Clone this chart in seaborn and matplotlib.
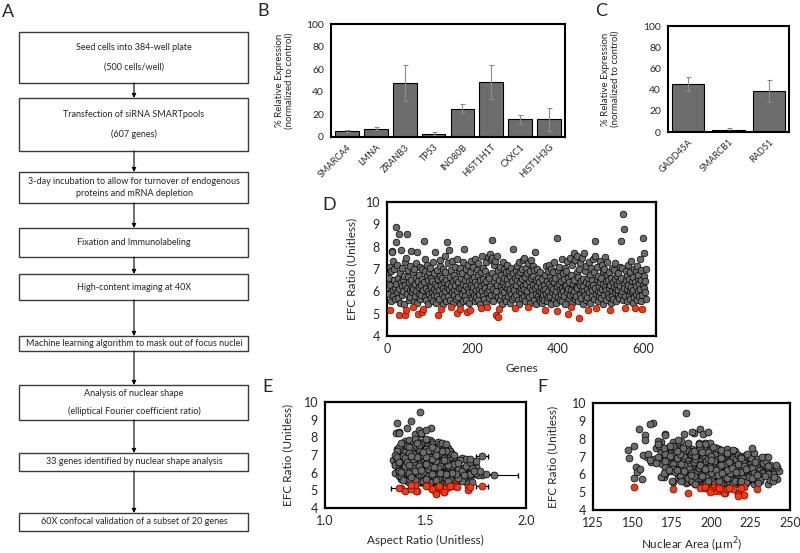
import numpy as np
import pandas as pd
import seaborn as sns
import matplotlib.pyplot as plt
from matplotlib.patches import Rectangle

sns.set_style("white")
plt.rcParams['font.family'] = ['Lato', 'DejaVu Sans']

# ---- panel A: screening workflow ----
steps = [
    ["Seed cells into 384-well plate", "(500 cells/well)"],
    ["Transfection of siRNA SMARTpools", "(607 genes)"],
    ["3-day incubation to allow for turnover of endogenous", "proteins and mRNA depletion"],
    ["Fixation and Immunolabeling"],
    ["High-content imaging at 40X"],
    ["Machine learning algorithm to mask out of focus nuclei"],
    ["Analysis of nuclear shape", "(elliptical Fourier coefficient ratio)"],
    ["33 genes identified by nuclear shape analysis"],
    ["60X confocal validation of a subset of 20 genes"],
]

# ---- panel B / C: knockdown efficiency ----
genes_b = ["SMARCA4", "LMNA", "ZRANB3", "TP53", "INO80B", "HIST1H1T", "CXXC1", "HIST1H3G"]
expr_b = [5.5, 7.5, 48, 3, 25, 49, 15.5, 15.5]
err_b = [0.8, 1.5, 16, 1.5, 4, 15, 4, 10.5]
genes_c = ["GADD45A", "SMARCB1", "RAD51"]
expr_c = [45.5, 2, 38.5]
err_c = [6.5, 1.5, 10.5]

# ---- panels D-F: EFC ratio per gene (genes 1..607) ----
efc = [
    6.75, 6.45, 6.2, 5.9, 6.6, 7.1, 5.15, 6.3, 5.55, 6.9, 7.8, 7.75, 6.05, 7.35, 5.8, 6.5, 7.0, 6.15, 5.65, 8.9,
    8.2, 6.35, 5.95, 7.2, 6.6, 5.7, 4.95, 8.55, 6.1, 6.8, 5.5, 6.4, 7.85, 6.25, 5.85, 7.05, 6.55, 6.0, 5.45, 6.7,
    6.3, 4.95, 7.3, 5.15, 7.5, 6.15, 8.55, 5.9, 6.65, 6.95, 5.6, 6.4, 7.15, 6.05, 5.75, 7.8, 6.5, 6.2, 5.95, 5.28,
    6.85, 6.1, 5.55, 7.0, 6.35, 5.8, 6.6, 7.25, 6.0, 5.5, 7.75, 4.97, 6.45, 5.9, 6.75, 6.2, 7.1, 5.65, 6.3, 5.85,
    5.08, 6.55, 7.0, 6.05, 5.2, 8.25, 6.4, 5.75, 6.9, 7.45, 6.15, 5.6, 6.7, 7.2, 6.0, 5.45, 6.5, 6.85, 5.9, 6.3,
    7.05, 6.2, 5.7, 6.6, 5.95, 6.45, 7.3, 5.55, 6.1, 6.8, 5.85, 7.75, 6.35, 6.0, 5.5, 6.95, 6.25, 5.8, 4.92, 6.55,
    6.05, 5.65, 6.7, 7.15, 7.4, 5.2, 6.3, 5.9, 6.6, 5.45, 6.15, 7.0, 6.4, 5.75, 6.85, 7.6, 6.0, 5.55, 6.5, 6.2,
    8.2, 6.35, 5.8, 7.25, 7.85, 6.1, 5.6, 6.65, 6.95, 5.3, 6.25, 5.95, 7.35, 6.45, 5.5, 6.75, 6.05, 5.85, 7.1, 6.3,
    5.65, 6.55, 7.45, 6.0, 5.05, 6.4, 5.75, 6.9, 6.15, 5.45, 7.05, 5.23, 6.6, 6.2, 5.9, 6.8, 7.3, 5.55, 6.35, 6.05,
    7.9, 6.5, 5.8, 7.0, 6.25, 5.6, 6.7, 5.08, 6.1, 7.2, 5.95, 6.45, 5.5, 5.15, 6.85, 6.3, 7.35, 5.7, 6.0, 6.55,
    7.1, 6.2, 5.85, 6.65, 5.55, 6.4, 7.45, 6.05, 5.75, 6.95, 6.3, 5.6, 6.75, 7.25, 6.1, 5.9, 6.5, 5.45, 6.85, 6.25,
    5.25, 7.6, 6.0, 6.55, 5.8, 7.05, 6.35, 5.65, 6.9, 6.15, 5.5, 7.3, 6.45, 5.95, 5.3, 6.7, 7.55, 6.05, 5.7, 6.6,
    7.65, 6.25, 7.4, 5.85, 6.8, 8.3, 7.5, 6.1, 5.55, 7.2, 6.45, 7.35, 5.9, 6.65, 6.0, 4.93, 7.6, 6.3, 5.75, 4.84,
    6.95, 5.23, 6.5, 5.6, 7.1, 6.2, 5.85, 6.75, 6.05, 5.45, 7.3, 6.4, 5.95, 6.6, 7.0, 5.7, 6.25, 6.85, 5.55, 6.15,
    6.55, 7.2, 5.8, 6.35, 6.0, 6.9, 5.5, 6.7, 6.1, 7.05, 5.9, 6.45, 5.65, 6.8, 6.2, 7.9, 6.05, 5.75, 6.6, 5.27,
    6.95, 6.3, 5.85, 7.15, 6.5, 5.6, 6.75, 6.0, 7.3, 5.45, 6.4, 6.85, 5.95, 6.15, 7.0, 5.7, 6.55, 6.25, 7.4, 5.8,
    7.5, 6.1, 6.65, 5.55, 7.05, 6.35, 5.9, 6.8, 6.0, 5.29, 7.25, 6.45, 5.75, 6.9, 6.2, 5.5, 7.4, 6.6, 6.05, 5.85,
    6.7, 7.15, 6.3, 5.6, 6.95, 7.75, 6.15, 5.9, 6.5, 5.45, 7.0, 6.25, 5.8, 6.6, 6.0, 5.65, 6.4, 5.55, 6.85, 5.95,
    6.2, 5.7, 6.55, 5.5, 6.05, 5.85, 6.3, 5.6, 6.75, 5.18, 6.1, 7.15, 5.9, 6.45, 5.55, 6.9, 6.0, 5.75, 7.2, 6.35,
    6.65, 5.8, 7.0, 6.2, 5.45, 6.5, 5.95, 6.85, 6.1, 5.65, 7.3, 6.4, 5.85, 6.6, 6.0, 5.5, 8.4, 6.25, 5.1, 6.95,
    5.75, 6.35, 7.1, 6.05, 5.6, 6.7, 5.9, 6.45, 7.45, 6.15, 5.55, 6.8, 6.0, 5.8, 6.55, 7.05, 6.25, 5.45, 6.9, 6.3,
    5.95, 7.35, 6.1, 5.0, 6.6, 5.7, 6.4, 7.5, 5.85, 5.3, 6.75, 6.05, 5.5, 7.2, 6.35, 5.9, 7.7, 6.5, 6.0, 5.65,
    7.4, 6.2, 5.8, 6.85, 7.6, 6.15, 5.55, 6.65, 4.8, 7.0, 6.3, 5.9, 7.25, 6.45, 5.7, 6.05, 7.5, 6.55, 5.45, 6.25,
    7.7, 6.0, 5.85, 6.9, 6.4, 5.6, 7.15, 6.1, 5.75, 6.6, 5.15, 6.35, 7.3, 5.95, 6.75, 5.5, 6.2, 7.05, 6.5, 5.8,
    6.05, 7.45, 6.3, 5.65, 6.85, 7.6, 8.25, 6.15, 5.9, 5.25, 6.55, 7.1, 6.0, 5.55, 6.7, 6.25, 5.8, 7.35, 6.4, 5.95,
    6.6, 5.7, 7.2, 6.1, 5.45, 6.9, 6.35, 5.85, 7.0, 6.2, 7.55, 6.45, 5.6, 6.05, 6.75, 7.3, 5.9, 6.5, 5.75, 6.15,
    6.85, 5.18, 6.3, 5.5, 6.6, 6.0, 7.05, 5.8, 6.4, 5.65, 6.95, 6.2, 5.95, 6.55, 7.25, 6.1, 5.55, 6.7, 6.35, 5.85,
    6.05, 6.8, 5.7, 6.45, 7.1, 6.25, 5.9, 6.6, 8.25, 6.0, 7.05, 5.6, 9.45, 6.35, 8.8, 6.15, 5.8, 5.25, 6.5, 6.9,
    6.1, 5.55, 6.7, 7.2, 6.3, 5.85, 6.55, 6.0, 5.65, 6.85, 6.2, 7.35, 5.95, 6.45, 5.5, 6.65, 6.05, 7.0, 5.75, 5.26,
    6.4, 6.9, 5.9, 6.25, 7.15, 5.6, 6.6, 6.0, 6.75, 5.8, 6.35, 7.45, 6.1, 5.55, 6.5, 6.95, 5.85, 5.2, 6.3, 8.4,
    6.15, 6.7, 7.7, 5.95, 6.45, 7.0, 5.65,
]

aspect = [
    1.42, 1.55, 1.48, 1.61, 1.38, 1.45, 1.38, 1.52, 1.57, 1.47, 1.40, 1.49, 1.44, 1.36, 1.66, 1.51, 1.58, 1.40, 1.46, 1.43,
    1.45, 1.50, 1.43, 1.53, 1.63, 1.52, 1.40, 1.41, 1.56, 1.37, 1.48, 1.45, 1.52, 1.69, 1.39, 1.50, 1.46, 1.54, 1.60, 1.34,
    1.47, 1.46, 1.42, 1.43, 1.55, 1.58, 1.525, 1.49, 1.44, 1.62, 1.41, 1.36, 1.48, 1.51, 1.72, 1.46, 1.53, 1.39, 1.57, 1.50,
    1.51, 1.43, 1.54, 1.39, 1.60, 1.47, 1.49, 1.57, 1.35, 1.64, 1.43, 1.455, 1.41, 1.52, 1.56, 1.48, 1.44, 1.38, 1.66, 1.50,
    1.53, 1.46, 1.52, 1.58, 1.61, 1.355, 1.42, 1.45, 1.59, 1.48, 1.37, 1.68, 1.50, 1.40, 1.49, 1.55, 1.63, 1.36, 1.44, 1.52,
    1.55, 1.51, 1.40, 1.45, 1.62, 1.47, 1.38, 1.50, 1.43, 1.64, 1.56, 1.53, 1.39, 1.70, 1.46, 1.41, 1.58, 1.51, 1.59, 1.48,
    1.44, 1.59, 1.36, 1.49, 1.45, 1.57, 1.53, 1.74, 1.42, 1.48, 1.61, 1.46, 1.50, 1.43, 1.55, 1.39, 1.47, 1.62, 1.41, 1.56,
    1.48, 1.40, 1.53, 1.46, 1.42, 1.65, 1.49, 1.52, 1.38, 1.64, 1.45, 1.57, 1.51, 1.35, 1.44, 1.60, 1.50, 1.78, 1.43, 1.47,
    1.47, 1.58, 1.37, 1.52, 1.575, 1.44, 1.61, 1.49, 1.39, 1.53, 1.60, 1.515, 1.46, 1.67, 1.42, 1.54, 1.48, 1.41, 1.50, 1.63,
    1.50, 1.45, 1.37, 1.56, 1.52, 1.58, 1.43, 1.43, 1.48, 1.62, 1.51, 1.35, 1.70, 1.603, 1.47, 1.59, 1.44, 1.54, 1.40, 1.51,
    1.41, 1.55, 1.62, 1.48, 1.45, 1.72, 1.53, 1.38, 1.50, 1.44, 1.57, 1.66, 1.52, 1.39, 1.46, 1.49, 1.61, 1.42, 1.68, 1.54,
    1.62, 1.48, 1.60, 1.43, 1.55, 1.46, 1.75, 1.51, 1.40, 1.53, 1.47, 1.58, 1.37, 1.64, 1.45, 1.50, 1.56, 1.44, 1.69, 1.41,
    1.44, 1.49, 1.55, 1.43, 1.63, 1.37, 1.47, 1.58, 1.52, 1.36, 1.54, 1.42, 1.59, 1.46, 1.71, 1.59, 1.53, 1.40, 1.48, 1.55,
    1.57, 1.565, 1.38, 1.50, 1.47, 1.62, 1.54, 1.45, 1.49, 1.73, 1.52, 1.43, 1.48, 1.56, 1.35, 1.60, 1.46, 1.51, 1.44, 1.67,
    1.48, 1.44, 1.41, 1.58, 1.51, 1.36, 1.57, 1.65, 1.46, 1.53, 1.80, 1.39, 1.49, 1.42, 1.55, 1.45, 1.63, 1.52, 1.47, 1.637,
    1.43, 1.61, 1.48, 1.55, 1.40, 1.46, 1.70, 1.53, 1.47, 1.42, 1.50, 1.59, 1.66, 1.38, 1.52, 1.56, 1.44, 1.49, 1.61, 1.45,
    1.51, 1.47, 1.57, 1.63, 1.39, 1.52, 1.45, 1.48, 1.69, 1.50, 1.54, 1.41, 1.58, 1.64, 1.46, 1.49, 1.43, 1.37, 1.55, 1.71,
    1.46, 1.58, 1.44, 1.55, 1.51, 1.56, 1.62, 1.40, 1.49, 1.46, 1.60, 1.53, 1.47, 1.74, 1.42, 1.50, 1.56, 1.68, 1.45, 1.53,
    1.50, 1.43, 1.59, 1.61, 1.47, 1.76, 1.41, 1.52, 1.55, 1.71, 1.45, 1.40, 1.48, 1.63, 1.57, 1.44, 1.52, 1.46, 1.50, 1.58,
    1.41, 1.54, 1.47, 1.66, 1.50, 1.45, 1.58, 1.53, 1.37, 1.49, 1.56, 1.48, 1.43, 1.61, 1.75, 1.52, 1.47, 1.46, 1.533, 1.39,
    1.49, 1.55, 1.50, 1.42, 1.65, 1.47, 1.53, 1.40, 1.59, 1.56, 1.44, 1.50, 1.62, 1.38, 1.48, 1.54, 1.69, 1.51, 1.43, 1.46,
    1.59, 1.47, 1.52, 1.71, 1.44, 1.57, 1.63, 1.41, 1.46, 1.43, 1.55, 1.49, 1.60, 1.53, 1.45, 1.72, 1.38, 1.51, 1.55, 1.42,
    1.52, 1.46, 1.61, 1.49, 1.57, 1.39, 1.54, 1.60, 1.55, 1.44, 1.51, 1.48, 1.62, 1.40, 1.66, 1.53, 1.45, 1.57, 1.49, 1.73,
    1.58, 1.44, 1.51, 1.62, 1.47, 1.39, 1.54, 1.68, 1.46, 1.50, 1.37, 1.56, 1.43, 1.60, 1.48, 1.57, 1.52, 1.45, 1.64, 1.49,
    1.55, 1.42, 1.49, 1.62, 1.44, 1.60, 1.37, 1.53, 1.46, 1.78, 1.51, 1.57, 1.41, 1.48, 1.67, 1.45, 1.59, 1.50, 1.43, 1.54,
    1.48, 1.54, 1.60, 1.45, 1.56, 1.52, 1.70, 1.42, 1.49, 1.55, 1.47, 1.61, 1.50, 1.38, 1.46, 1.53, 1.65, 1.44, 1.57, 1.41,
    1.59, 1.655, 1.46, 1.52, 1.55, 1.63, 1.44, 1.50, 1.57, 1.45, 1.78, 1.48, 1.54, 1.41, 1.51, 1.74, 1.47, 1.60, 1.43, 1.84,
    1.46, 1.53, 1.60, 1.49, 1.42, 1.56, 1.51, 1.72, 1.48, 1.58, 1.63, 1.45, 1.475, 1.40, 1.36, 1.52, 1.55, 1.62, 1.47, 1.50,
    1.77, 1.49, 1.44, 1.58, 1.53, 1.47, 1.66, 1.42, 1.56, 1.40, 1.51, 1.55, 1.48, 1.45, 1.52, 1.75, 1.49, 1.64, 1.43, 1.50,
    1.52, 1.46, 1.60, 1.44, 1.49, 1.55, 1.41, 1.57, 1.72, 1.51, 1.47, 1.53, 1.45, 1.61, 1.50, 1.43, 1.69, 1.72, 1.54, 1.50,
    1.48, 1.59, 1.46, 1.53, 1.42, 1.55, 1.50,
]

area = [
    188, 207, 214, 196, 175, 201, 204, 222, 209, 148, 168, 192, 199, 147, 226, 211, 190, 203, 216, 163,
    158, 195, 218, 186, 229, 201, 209, 154, 212, 173, 194, 205, 181, 236, 170, 198, 217, 190, 211, 162,
    200, 217, 193, 207, 184, 221, 193, 188, 208, 159, 231, 152, 205, 197, 156, 176, 192, 227, 206, 151,
    212, 185, 198, 168, 224, 151, 196, 203, 179, 219, 185, 185, 188, 233, 201, 215, 157, 192, 208, 223,
    205, 182, 209, 200, 199, 171, 219, 186, 194, 165, 206, 213, 227, 190, 171, 202, 196, 226, 218, 186,
    178, 197, 230, 211, 189, 173, 200, 221, 204, 191, 168, 196, 216, 209, 184, 222, 179, 200, 217, 205,
    193, 207, 186, 160, 188, 210, 232, 214, 199, 190, 153, 204, 183, 205, 213, 179, 228, 196, 210, 174,
    171, 201, 179, 192, 166, 219, 203, 178, 206, 195, 190, 225, 170, 213, 217, 194, 188, 238, 185, 155,
    199, 209, 181, 221, 202, 187, 215, 198, 232, 208, 212, 196, 169, 204, 193, 220, 183, 203, 176, 211,
    158, 198, 206, 183, 216, 191, 175, 208, 198, 201, 228, 182, 222, 214, 205, 240, 174, 212, 187, 196,
    195, 209, 189, 214, 176, 226, 177, 203, 217, 187, 193, 208, 231, 168, 210, 180, 201, 195, 189, 222,
    193, 151, 234, 193, 204, 207, 181, 219, 167, 199, 210, 186, 215, 200, 221, 182, 173, 206, 224, 204,
    192, 213, 171, 197, 211, 189, 203, 185, 228, 179, 200, 194, 211, 223, 193, 208, 167, 205, 182, 221,
    203, 200, 190, 213, 176, 198, 237, 185, 207, 199, 209, 171, 215, 196, 213, 186, 226, 164, 205, 191,
    220, 197, 193, 187, 212, 178, 229, 200, 170, 215, 209, 196, 181, 218, 203, 179, 224, 197, 185, 196,
    190, 208, 222, 187, 204, 197, 172, 215, 205, 227, 181, 211, 199, 189, 166, 208, 234, 178, 197, 214,
    182, 225, 198, 185, 214, 190, 208, 161, 201, 202, 188, 219, 213, 196, 183, 201, 210, 176, 206, 192,
    207, 180, 196, 219, 174, 199, 214, 203, 188, 212, 195, 230, 186, 205, 192, 175, 210, 208, 197, 232,
    188, 201, 214, 190, 207, 217, 176, 223, 193, 206, 211, 171, 196, 186, 205, 215, 182, 209, 203, 199,
    165, 192, 199, 206, 215, 226, 180, 208, 216, 187, 178, 202, 207, 194, 221, 196, 188, 173, 199, 214,
    228, 183, 206, 196, 211, 189, 204, 218, 192, 177, 200, 228, 209, 185, 200, 174, 212, 221, 196, 205,
    214, 199, 190, 199, 213, 196, 237, 170, 210, 204, 197, 203, 218, 211, 192, 198, 196, 183, 226, 205,
    205, 198, 226, 190, 176, 215, 202, 208, 217, 218, 186, 212, 198, 227, 190, 209, 193, 203, 236, 181,
    166, 205, 216, 222, 199, 188, 210, 214, 196, 201, 176, 192, 215, 218, 171, 206, 220, 190, 209, 200,
    187, 203, 211, 223, 198, 174, 195, 209, 189, 219, 205, 222, 213, 197, 210, 178, 220, 206, 195, 202,
    225, 213, 210, 200, 190, 206, 219, 197, 224, 183, 201, 199, 229, 216, 202, 189, 207, 193, 231, 214,
    216, 210, 204, 214, 181, 229, 200, 208, 225, 198, 235, 220, 187, 211, 194, 232, 218, 220, 199, 209,
    208, 200, 237, 215, 217, 203, 194, 209, 183, 236, 221, 205, 184, 226, 161, 219, 210, 205, 237, 225,
    227, 222, 211, 227, 196, 224, 206, 240, 215, 229, 243, 214, 204, 221, 230, 233, 212, 218, 242, 211,
    242, 219, 234, 210, 223, 239, 217, 230, 235, 226, 213, 226, 207, 218, 241, 232, 240, 229, 222, 198,
    216, 228, 192, 229, 236, 236, 219,
]

# the 33 hits (genes flagged by nuclear shape analysis)
hit_genes = [7, 27, 42, 44, 60, 72, 81, 85, 119, 126, 150, 165, 172, 188, 194, 221, 235,
             256, 260, 262, 300, 330, 370, 399, 424, 430, 449, 471, 490, 522, 558, 580, 598]

# genes whose aspect-ratio error bar sticks out of the cloud
ar_err_genes = [7, 291, 490, 531, 540]
ar_err = [0.05, 0.03, 0.03, 0.03, 0.12]

df = pd.DataFrame({"gene": np.arange(1, len(efc) + 1), "efc": efc,
                   "aspect": aspect, "area": area})
df["hit"] = df["gene"].isin(hit_genes)
gray_df = df[~df["hit"]]
hit_df = df[df["hit"]]

GRAY = "#6b6b6b"
RED = "#ff3510"
W, H = 800, 553

fig = plt.figure(figsize=(8, 5.53), dpi=100)


def px_axes(x0, y0, x1, y1):
    return fig.add_axes([x0 / W, 1 - y1 / H, (x1 - x0) / W, (y1 - y0) / H])


# overlay for flowchart and panel letters
ov = fig.add_axes([0, 0, 1, 1])
ov.set_xlim(0, W)
ov.set_ylim(H, 0)
ov.axis("off")

# box top, bottom, half gap between two text lines
boxes = [(32, 83, 9.5), (98, 151, 10), (172, 203, 5.5), (228, 257, 0), (274, 300, 0),
         (336, 351, 0), (385, 420, 9), (453, 471, 0), (513, 531, 0)]
bx0, bx1, cx = 19, 248, 134
FS = 6.5
for (t, b, gap), lines in zip(boxes, steps):
    ov.add_patch(Rectangle((bx0, t), bx1 - bx0, b - t, fill=False,
                           edgecolor="#3a3a3a", lw=1))
    mid = (t + b) / 2
    if len(lines) == 1:
        ov.text(cx, mid, lines[0], ha="center", va="center", fontsize=FS)
    else:
        ov.text(cx, mid - gap, lines[0], ha="center", va="center", fontsize=FS)
        ov.text(cx, mid + gap, lines[1], ha="center", va="center", fontsize=FS)
for (t0, b0, _), (t1, b1, _) in zip(boxes[:-1], boxes[1:]):
    ov.annotate("", xy=(cx, t1), xytext=(cx, b0),
                arrowprops=dict(arrowstyle="-|>", color="black", lw=0.8,
                                mutation_scale=6, shrinkA=0, shrinkB=0))

for lab, x, y in [("A", 8, 12), ("B", 263, 11), ("C", 601, 11),
                  ("D", 329, 205), ("E", 268, 387), ("F", 542, 387)]:
    ov.text(x, y, lab, ha="center", va="center", fontsize=13)


def style_box(ax, lw=1.5):
    for s in ax.spines.values():
        s.set_visible(True)
        s.set_color("black")
        s.set_linewidth(lw)
    ax.tick_params(direction="out", length=3, width=1, color="black", pad=2)


# ---- B ----
axB = px_axes(331, 24, 565, 137)
sns.barplot(x=genes_b, y=expr_b, color="#6d6d6d", edgecolor="black",
            linewidth=0.8, width=0.82, saturation=1, ax=axB)
axB.errorbar(range(len(genes_b)), expr_b, yerr=err_b, fmt="none",
             ecolor="#8c8c8c", elinewidth=0.8, capsize=1.8, capthick=0.8)
axB.set_xlim(-0.55, 7.55)
axB.set_ylim(0, 100)
axB.set_yticks([0, 20, 40, 60, 80, 100])
style_box(axB)
axB.tick_params(axis="x", length=0, pad=4)
axB.tick_params(axis="y", labelsize=7.5)
plt.setp(axB.get_xticklabels(), rotation=45, ha="right",
         rotation_mode="anchor", fontsize=6.5)
axB.set_ylabel("% Relative Expression\n(normalized to control)", fontsize=7,
               linespacing=1.1)
axB.yaxis.set_label_coords(-0.16, 0.5)

# ---- C ----
axC = px_axes(668, 26, 789, 132)
sns.barplot(x=genes_c, y=expr_c, color="#6d6d6d", edgecolor="black",
            linewidth=0.8, width=0.8, saturation=1, ax=axC)
axC.errorbar(range(len(genes_c)), expr_c, yerr=err_c, fmt="none",
             ecolor="#8c8c8c", elinewidth=0.8, capsize=1.8, capthick=0.8)
axC.set_xlim(-0.5, 2.5)
axC.set_ylim(0, 100)
axC.set_yticks([0, 20, 40, 60, 80, 100])
style_box(axC)
axC.tick_params(axis="x", length=0, pad=4)
axC.tick_params(axis="y", labelsize=7.5)
plt.setp(axC.get_xticklabels(), rotation=45, ha="right",
         rotation_mode="anchor", fontsize=6.5)
axC.set_ylabel("% Relative Expression\n(normalized to control)", fontsize=7,
               linespacing=1.1)
axC.yaxis.set_label_coords(-0.40, 0.5)


def scatter_panel(ax, xcol, s=24):
    sns.scatterplot(data=gray_df, x=xcol, y="efc", color=GRAY, edgecolor="black",
                    linewidth=0.5, s=s, ax=ax, zorder=3)
    sns.scatterplot(data=hit_df, x=xcol, y="efc", color=RED, edgecolor="#5a1000",
                    linewidth=0.5, s=s, ax=ax, zorder=4)
    ax.set_ylim(4, 10)
    ax.set_yticks(range(4, 11))
    style_box(ax, lw=1.6)
    ax.tick_params(labelsize=9)
    ax.set_ylabel("EFC Ratio (Unitless)", fontsize=8.5)


# ---- D ----
axD = px_axes(387, 202, 656, 336)
scatter_panel(axD, "gene", s=23)
axD.set_xlim(0, 630)
axD.set_xticks([0, 200, 400, 600])
axD.set_xlabel("Genes", fontsize=8.5)
axD.yaxis.set_label_coords(-0.11, 0.5)
axD.xaxis.set_label_coords(0.5, -0.2)

# ---- E ----
axE = px_axes(325, 402, 526, 508)
err_rows = df.set_index("gene").loc[ar_err_genes]
axE.errorbar(err_rows["aspect"], err_rows["efc"], xerr=ar_err, fmt="none",
             ecolor="black", elinewidth=0.8, capsize=1.8, zorder=2)
scatter_panel(axE, "aspect", s=25)
axE.set_xlim(1.0, 2.0)
axE.set_xticks([1.0, 1.5, 2.0])
axE.set_xticklabels(["1.0", "1.5", "2.0"])
axE.set_xlabel("Aspect Ratio (Unitless)", fontsize=8.5)
axE.yaxis.set_label_coords(-0.16, 0.5)
axE.xaxis.set_label_coords(0.5, -0.25)

# ---- F ----
axF = px_axes(593, 403, 790, 510)
scatter_panel(axF, "area", s=25)
axF.set_xlim(125, 250)
axF.set_xticks([125, 150, 175, 200, 225, 250])
axF.set_xlabel("Nuclear Area (µm$^2$)", fontsize=8.5)
axF.yaxis.set_label_coords(-0.175, 0.5)
axF.xaxis.set_label_coords(0.5, -0.24)

fig.savefig("out.png", dpi=100)
